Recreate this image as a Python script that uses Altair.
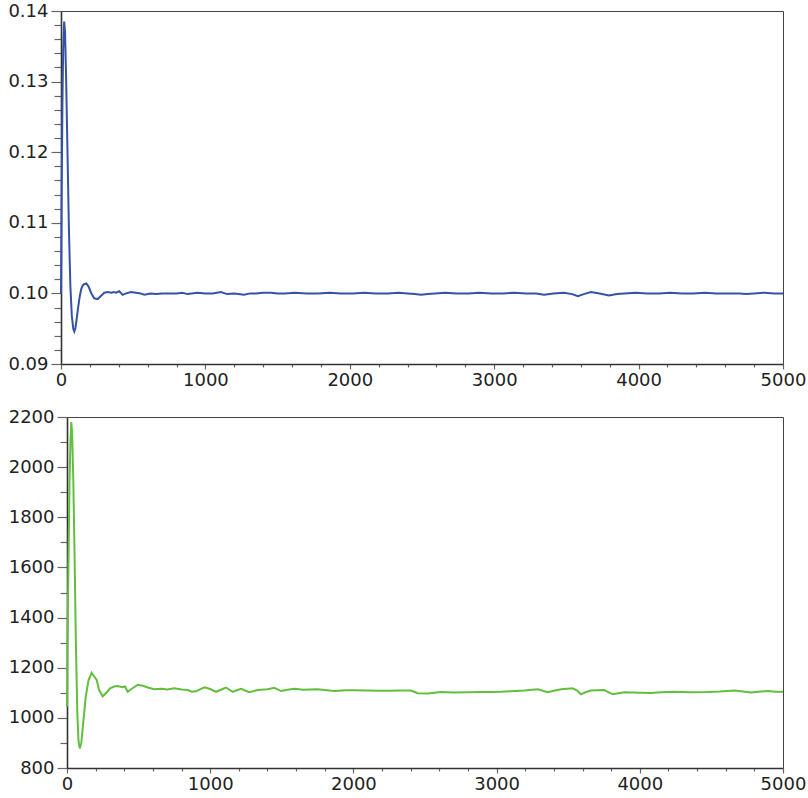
import altair as alt
import pandas as pd

# Top series (blue)
top_x = [0, 5, 10, 15, 22, 28, 35, 45, 55, 65, 75, 85, 92, 100, 110, 120, 130, 140, 150, 160, 175, 190,
         210, 230, 254, 280, 300, 323, 350, 365, 381, 404, 427, 450, 485, 520, 550, 577, 620, 660, 700,
         739, 800, 840, 877, 947, 1000, 1050, 1108, 1150, 1200, 1268, 1310, 1350, 1400, 1454, 1500, 1550,
         1620, 1700, 1780, 1860, 1940, 2020, 2100, 2180, 2260, 2340, 2400, 2450, 2493, 2540, 2590, 2660,
         2740, 2820, 2900, 2980, 3060, 3140, 3220, 3290, 3345, 3410, 3483, 3540, 3580, 3620, 3670, 3730,
         3795, 3850, 3900, 3980, 4060, 4140, 4220, 4300, 4380, 4460, 4540, 4620, 4700, 4744, 4800, 4870,
         4940, 5000]
top_y = [0.1000, 0.1150, 0.1270, 0.1345, 0.1385, 0.1370, 0.1310, 0.1200, 0.1090, 0.1010, 0.0968, 0.0950,
         0.0946, 0.0951, 0.0966, 0.0982, 0.0996, 0.1006, 0.1011, 0.1013, 0.1014, 0.1010, 0.1000, 0.0993,
         0.0992, 0.0997, 0.1001, 0.1002, 0.1001, 0.1002, 0.1001, 0.1003, 0.0998, 0.1000, 0.1002, 0.1001,
         0.1000, 0.0998, 0.1000, 0.0999, 0.1000, 0.1000, 0.1000, 0.1001, 0.0999, 0.1001, 0.1000, 0.1000,
         0.1002, 0.0999, 0.1000, 0.0998, 0.1000, 0.1000, 0.1001, 0.1001, 0.1000, 0.1000, 0.1001, 0.1000,
         0.1000, 0.1001, 0.1000, 0.1000, 0.1001, 0.1000, 0.1000, 0.1001, 0.1000, 0.0999, 0.0998, 0.0999,
         0.1000, 0.1001, 0.1000, 0.1000, 0.1001, 0.1000, 0.1000, 0.1001, 0.1000, 0.1000, 0.0998, 0.1000,
         0.1001, 0.0999, 0.0996, 0.0999, 0.1002, 0.1000, 0.0997, 0.0999, 0.1000, 0.1001, 0.1000, 0.1000,
         0.1001, 0.1000, 0.1000, 0.1001, 0.1000, 0.1000, 0.1000, 0.0999, 0.1000, 0.1001, 0.1000, 0.1000]

# Bottom series (green)
bot_x = [0, 3, 8, 12, 18, 24, 30, 36, 44, 52, 62, 72, 80, 89, 100, 115, 130, 150, 172, 190, 207, 225,
         249, 275, 300, 330, 354, 385, 405, 424, 450, 494, 530, 570, 610, 660, 700, 749, 800, 843, 870,
         900, 959, 1000, 1041, 1075, 1110, 1157, 1215, 1273, 1332, 1400, 1448, 1494, 1540, 1587, 1650,
         1750, 1866, 1950, 2000, 2100, 2180, 2250, 2330, 2402, 2449, 2519, 2612, 2700, 2798, 2900, 2961,
         3031, 3100, 3193, 3287, 3357, 3400, 3450, 3531, 3560, 3589, 3620, 3659, 3700, 3752, 3790, 3811,
         3892, 4000, 4078, 4150, 4241, 4350, 4474, 4560, 4660, 4720, 4777, 4830, 4893, 4950, 5000]
bot_y = [1045, 1300, 1520, 1700, 1950, 2100, 2180, 2130, 1950, 1680, 1300, 1020, 910, 878, 900, 990,
         1080, 1150, 1180, 1165, 1151, 1110, 1086, 1100, 1118, 1125, 1127, 1122, 1125, 1104, 1115, 1132,
         1128, 1120, 1114, 1116, 1113, 1118, 1113, 1111, 1104, 1106, 1122, 1115, 1104, 1112, 1121, 1104,
         1116, 1102, 1111, 1114, 1120, 1107, 1112, 1116, 1112, 1114, 1107, 1110, 1110, 1109, 1108, 1108,
         1109, 1109, 1098, 1097, 1103, 1101, 1102, 1103, 1103, 1104, 1106, 1109, 1114, 1102, 1108, 1114,
         1118, 1110, 1094, 1102, 1109, 1110, 1111, 1100, 1094, 1102, 1100, 1099, 1102, 1104, 1102, 1103,
         1105, 1109, 1105, 1101, 1104, 1107, 1104, 1104]

# Axis tick values (major + minor)
x_ticks = [i * 200 for i in range(26)]
top_y_ticks = [round(0.09 + 0.002 * i, 3) for i in range(26)]
bot_y_ticks = [800 + 100 * i for i in range(15)]

top_df = pd.DataFrame({"x": top_x, "y": top_y})
bot_df = pd.DataFrame({"x": bot_x, "y": bot_y})

FONT = "DejaVu Sans"
W = 722


def panel(df, color, ydomain, yticks, major_test, fmt, height, inset):
    xscale = alt.Scale(domain=[0, 5000], nice=False, range=[inset, W])
    yscale = alt.Scale(domain=ydomain, nice=False, zero=False)
    x_major = "datum.value % 1000 === 0"
    x_axis = alt.Axis(
        values=x_ticks, title=None, grid=False, orient="bottom",
        labelExpr=f"{x_major} ? format(datum.value, 'd') : ''",
        tickSize={"condition": {"test": x_major, "value": 5}, "value": 3},
        labelPadding=2, labelFlush=False,
        domainColor="#333333", domainWidth=1.6,
    )
    y_axis = alt.Axis(
        values=yticks, title=None, grid=False, orient="left",
        labelExpr=f"{major_test} ? format(datum.value, '{fmt}') : ''",
        tickSize={"condition": {"test": major_test, "value": 10}, "value": 7},
        labelPadding=3, labelFlush=False, offset=-inset,
        domainColor="#333333", domainWidth=1.6,
    )
    frame_x = alt.Axis(orient="top", title=None, grid=False, labels=False, ticks=False,
                       domainColor="#444444", domainWidth=1)
    frame_y = alt.Axis(orient="right", title=None, grid=False, labels=False, ticks=False,
                       domainColor="#444444", domainWidth=1)
    line = alt.Chart(df).mark_line(color=color, strokeWidth=2).encode(
        x=alt.X("x:Q", scale=xscale, axis=x_axis),
        y=alt.Y("y:Q", scale=yscale, axis=y_axis),
        order="x:Q",
    )
    frame = alt.Chart(df).mark_line(opacity=0).encode(
        x=alt.X("x:Q", scale=xscale, axis=frame_x),
        y=alt.Y("y:Q", scale=yscale, axis=frame_y),
        order="x:Q",
    )
    return alt.layer(line, frame).resolve_axis(x="independent", y="independent").properties(
        width=W, height=height
    )


top = panel(top_df, "#3552a8", [0.09, 0.14], top_y_ticks,
            "abs(datum.value*100 - round(datum.value*100)) < 1e-6", ".2f", 353, 0)
bottom = panel(bot_df, "#62bf3e", [800, 2200], bot_y_ticks,
               "datum.value % 200 === 0", "d", 351, 6)

chart = alt.concat(top, bottom, columns=1, spacing=19).properties(
    background="white",
    padding={"left": 7, "top": 2, "right": 1, "bottom": 2},
).configure_view(
    strokeWidth=0, stroke="transparent",
).configure_axis(
    labelFont=FONT, labelFontSize=18, labelColor="#222222",
    tickColor="#666666", tickWidth=1.2,
)

chart.save("out.html", embed_options={"renderer": "svg", "actions": False})
